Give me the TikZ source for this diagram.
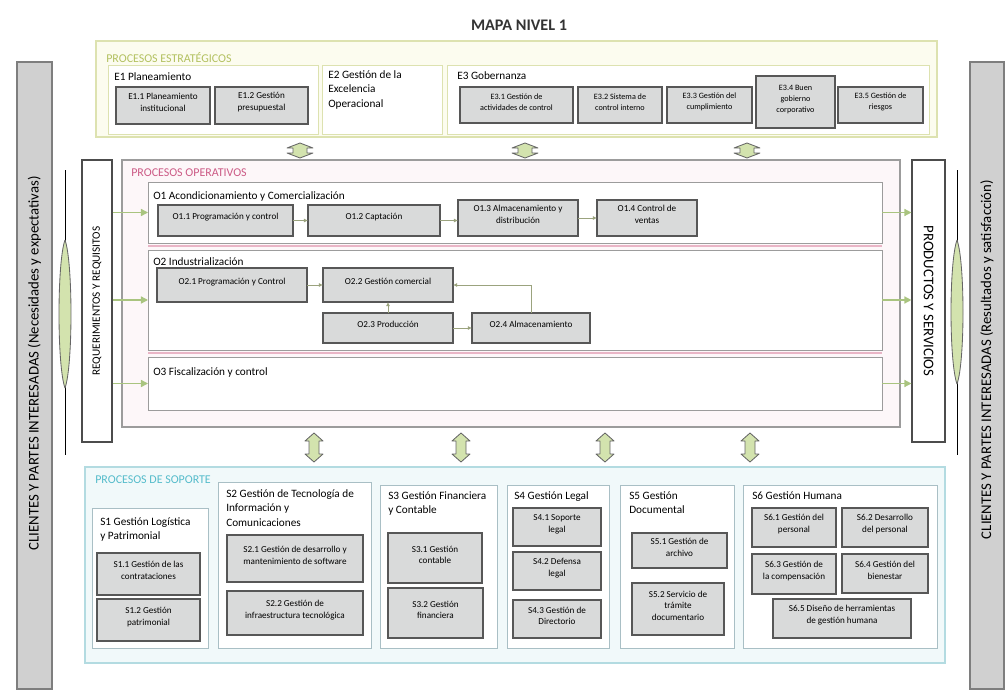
\documentclass[tikz,border=0pt]{standalone}
\usepackage{fontspec}
\setmainfont{Carlito}
\usetikzlibrary{arrows.meta,fit}

\definecolor{estrfill}{HTML}{FCFCEF}
\definecolor{estrdraw}{HTML}{DDE2B0}
\definecolor{estrtxt}{HTML}{B3C160}
\definecolor{operfill}{HTML}{FDF7F9}
\definecolor{operdraw}{HTML}{9C9C9C}
\definecolor{opertxt}{HTML}{CC5B86}
\definecolor{rosa}{HTML}{E9B5C6}
\definecolor{sopfill}{HTML}{F1F9FA}
\definecolor{sopdraw}{HTML}{B3DBE1}
\definecolor{soptxt}{HTML}{55BCCB}
\definecolor{subdraw}{HTML}{A9BFC5}
\definecolor{procfill}{HTML}{D9DADA}
\definecolor{procdraw}{HTML}{575757}
\definecolor{barfill}{HTML}{D0D0D0}
\definecolor{bardraw}{HTML}{7E7E7E}
\definecolor{verde}{HTML}{A9C47F}
\definecolor{verdeclaro}{HTML}{D3E3AE}
\definecolor{flechagris}{HTML}{9BA37E}

\tikzset{
  grupo/.style={draw=#1, line width=0.8pt, inner sep=0pt, outer sep=0pt},
  sub/.style={draw=#1, fill=white, line width=0.7pt, inner sep=0pt, outer sep=0pt},
  proc/.style={draw=procdraw, fill=procfill, line width=0.9pt, inner sep=0pt, outer sep=0pt,
    align=center, font=\fontsize{6.5}{8.5}\selectfont},
  chico/.style={font=\fontsize{5.8}{8}\selectfont},
  tit/.style={inner sep=0pt, align=left, font=\fontsize{8}{10.5}\selectfont},
  seccion/.style={inner sep=0pt, anchor=west, text=#1, font=\fontsize{8.5}{9}\selectfont},
  barra/.style={draw=bardraw, fill=barfill, line width=0.8pt, inner sep=0pt},
  lado/.style={draw=black!70, fill=white, line width=0.8pt, inner sep=0pt},
  flecha/.style={draw=flechagris, line width=0.6pt, -{Latex[length=3pt,width=3pt]}},
  entrada/.style={draw=verde, line width=1pt, -{Triangle[length=5pt,width=5pt]}},
  bloque/.style={draw=black!60, fill=verdeclaro, line width=0.6pt, line join=round},
}

\begin{document}
\begin{tikzpicture}[x=0.025cm, y=-0.025cm]
  \useasboundingbox (0,0) rectangle (1006,692);

  \node[font=\bfseries\fontsize{11.5}{12}\selectfont, text=black!80] (mapa) at (519,25) {MAPA NIVEL 1};

  \node[barra, fit={(17,62) (52,689)}] (cli1) {};
  \node[rotate=90, font=\fontsize{10.5}{11}\selectfont] at ([shift={(0,-12)}]cli1.center)
    {CLIENTES Y PARTES INTERESADAS (Necesidades y expectativas)};
  \node[barra, fit={(970,62) (1004,689)}] (cli2) {};
  \node[rotate=90, font=\fontsize{10.5}{11}\selectfont] at ([shift={(0,-16)}]cli2.center)
    {CLIENTES Y PARTES INTERESADAS (Resultados y satisfacción)};

  \draw[line width=0.7pt] (65,170) -- (65,455);
  \draw[bloque, fill=verdeclaro] (65,240) .. controls (57,262) and (57,366) .. (65,388)
    .. controls (73,366) and (73,262) .. (65,240);
  \draw[line width=0.7pt] (957,170) -- (957,455);
  \draw[bloque, fill=verdeclaro] (957,240) .. controls (949,262) and (949,362) .. (957,384)
    .. controls (965,362) and (965,262) .. (957,240);

  \node[grupo=estrdraw, fill=estrfill, fit={(96,41) (937,137)}] (estr) {};
  \node[seccion=estrtxt] (estrt) at (106,58) {PROCESOS ESTRATÉGICOS};
  \node[sub=estrdraw, fit={(108,65) (318,134)}] (e1) {};
  \node[tit, anchor=west] (e1t) at (114,77) {E1 Planeamiento};
  \node[proc, fit={(116,87) (210,124)}] (e11) {E1.1 Planeamiento\\institucional};
  \node[proc, fit={(215,87) (308,124)}] (e12) {E1.2 Gestión\\presupuestal};
  \node[sub=estrdraw, fit={(322,65) (442,134)}] (e2) {};
  \node[tit, anchor=north west] (e2t) at (328,70) {E2 Gestión de la\\Excelencia\\Operacional};
  \node[sub=estrdraw, fit={(447,65) (929,134)}] (e3) {};
  \node[tit, anchor=west] (e3t) at (457,76) {E3 Gobernanza};
  \node[proc, chico, fit={(460,87) (573,123)}] (e31) {E3.1 Gestión de\\actividades de control};
  \node[proc, chico, fit={(578,87) (662,123)}] (e32) {E3.2 Sistema de\\control interno};
  \node[proc, chico, fit={(667,87) (752,123)}] (e33) {E3.3 Gestión del\\cumplimiento};
  \node[proc, chico, fit={(756,76) (835,128)}] (e34) {E3.4 Buen\\gobierno\\corporativo};
  \node[proc, chico, fit={(838,87) (923,123)}] (e35) {E3.5 Gestión de\\riesgos};

  \foreach \x in {300,525,747}
    \draw[bloque] (\x,143) -- ++(13,5) -- ++(-6,0) -- ++(0,5) -- ++(6,0) -- ++(-13,5)
      -- ++(-13,-5) -- ++(6,0) -- ++(0,-5) -- ++(-6,0) -- cycle;

  \node[grupo=operdraw, fill=operfill, fit={(122,160) (900,427)}] (oper) {};
  \node[seccion=opertxt] (opert) at (131,173) {PROCESOS OPERATIVOS};
  \node[lado, fit={(82,160) (112,442)}] (req) {};
  \node[rotate=90, font=\fontsize{8}{9}\selectfont] at (req) {REQUERIMIENTOS Y REQUISITOS};
  \node[lado, fit={(912,160) (945,442)}] (prod) {};
  \node[rotate=-90, font=\fontsize{10.5}{11}\selectfont] at (prod) {PRODUCTOS Y SERVICIOS};

  \node[sub=operdraw, fit={(148,182) (882,243)}] (o1) {};
  \node[tit, anchor=west] (o1t) at (153,196) {O1 Acondicionamiento y Comercialización};
  \node[proc, fit={(158,205) (293,236)}] (o11) {O1.1 Programación y control};
  \node[proc, fit={(308,205) (440,236)}] (o12) {O1.2 Captación};
  \node[proc, fit={(458,200) (578,236)}] (o13) {O1.3 Almacenamiento y\\distribución};
  \node[proc, fit={(597,200) (697,236)}] (o14) {O1.4 Control de\\ventas};

  \node[sub=operdraw, fit={(148,250) (882,350)}] (o2) {};
  \node[tit, anchor=west] (o2t) at (153,262) {O2 Industrialización};
  \node[proc, fit={(157,268) (307,302)}] (o21) {O2.1 Programación y Control};
  \node[proc, fit={(323,268) (453,302)}] (o22) {O2.2 Gestión comercial};
  \node[proc, fit={(323,313) (453,343)}] (o23) {O2.3 Producción};
  \node[proc, fit={(472,313) (590,343)}] (o24) {O2.4 Almacenamiento};

  \node[sub=operdraw, fit={(148,357) (882,410)}] (o3) {};
  \node[tit, anchor=west] (o3t) at (153,372) {O3 Fiscalización y control};

  \draw[rosa, line width=1.6pt] ([shift={(0,3)}]o1.south west) -- ([shift={(0,3)}]o1.south east);
  \draw[rosa, line width=1.6pt] ([shift={(0,3)}]o2.south west) -- ([shift={(0,3)}]o2.south east);

  \draw[flecha] (o11.east |- o12.west) -- (o12.west);
  \draw[flecha] (o12.east) -- (o12.east -| o13.west);
  \draw[flecha] (o13.east) -- (o14.west);
  \draw[flecha] (o21.east) -- (o22.west);
  \draw[flecha] (o23) -- (o22);
  \draw[flecha] (o23.east) -- (o24.west);
  \draw[flecha] (o24.north) |- (o22.east);

  \foreach \o in {o1,o2,o3}{
    \draw[entrada] (req.east |- \o.west) -- (\o.west);
    \draw[entrada] (\o.east) -- (\o.east -| prod.west);
  }

  \foreach \x in {314,461,605,750}
    \draw[bloque] (\x,433) -- ++(9,8) -- ++(-4,0) -- ++(0,13) -- ++(4,0) -- ++(-9,8)
      -- ++(-9,-8) -- ++(4,0) -- ++(0,-13) -- ++(-4,0) -- cycle;

  \node[grupo=sopdraw, fill=sopfill, fit={(85,467) (945,663)}] (sop) {};
  \node[seccion=soptxt] (sopt) at (95,480) {PROCESOS DE SOPORTE};

  \node[sub=subdraw, fit={(92,508) (208,648)}] (s1) {};
  \node[tit, anchor=north west] (s1t) at (100,517) {S1 Gestión Logística\\y Patrimonial};
  \node[proc, fit={(97,553) (200,595)}] (s11) {S1.1 Gestión de las\\contrataciones};
  \node[proc, fit={(97,599) (200,641)}] (s12) {S1.2 Gestión\\patrimonial};

  \node[sub=subdraw, fit={(218,482) (371,648)}] (s2) {};
  \node[tit, anchor=north west] (s2t) at (226,489) {S2 Gestión de Tecnología de\\Información y\\Comunicaciones};
  \node[proc, fit={(227,535) (363,582)}] (s21) {S2.1 Gestión de desarrollo y\\mantenimiento de software};
  \node[proc, fit={(227,591) (363,635)}] (s22) {S2.2 Gestión de\\infraestructura tecnológica};

  \node[sub=subdraw, fit={(380,485) (497,648)}] (s3) {};
  \node[tit, anchor=north west] (s3t) at (388,491) {S3 Gestión Financiera\\y Contable};
  \node[proc, fit={(388,533) (482,583)}] (s31) {S3.1 Gestión\\contable};
  \node[proc, fit={(388,588) (483,638)}] (s32) {S3.2 Gestión\\financiera};

  \node[sub=subdraw, fit={(507,485) (609,648)}] (s4) {};
  \node[tit, anchor=north west] (s4t) at (514,491) {S4 Gestión Legal};
  \node[proc, fit={(513,508) (601,546)}] (s41) {S4.1 Soporte\\legal};
  \node[proc, fit={(513,552) (601,590)}] (s42) {S4.2 Defensa\\legal};
  \node[proc, fit={(513,600) (601,638)}] (s43) {S4.3 Gestión de\\Directorio};

  \node[sub=subdraw, fit={(620,485) (734,648)}] (s5) {};
  \node[tit, anchor=north west] (s5t) at (629,491) {S5 Gestión\\Documental};
  \node[proc, fit={(632,533) (727,568)}] (s51) {S5.1 Gestión de\\archivo};
  \node[proc, fit={(632,583) (724,635)}] (s52) {S5.2 Servicio de\\trámite\\documentario};

  \node[sub=subdraw, fit={(743,485) (937,648)}] (s6) {};
  \node[tit, anchor=north west] (s6t) at (752,491) {S6 Gestión Humana};
  \node[proc, fit={(752,508) (836,547)}] (s61) {S6.1 Gestión del\\personal};
  \node[proc, fit={(842,508) (928,547)}] (s62) {S6.2 Desarrollo\\del personal};
  \node[proc, fit={(752,554) (836,594)}] (s63) {S6.3 Gestión de\\la compensación};
  \node[proc, fit={(842,554) (928,593)}] (s64) {S6.4 Gestión del\\bienestar};
  \node[proc, fit={(773,599) (911,638)}] (s65) {S6.5 Diseño de herramientas\\de gestión humana};
\end{tikzpicture}
\end{document}
